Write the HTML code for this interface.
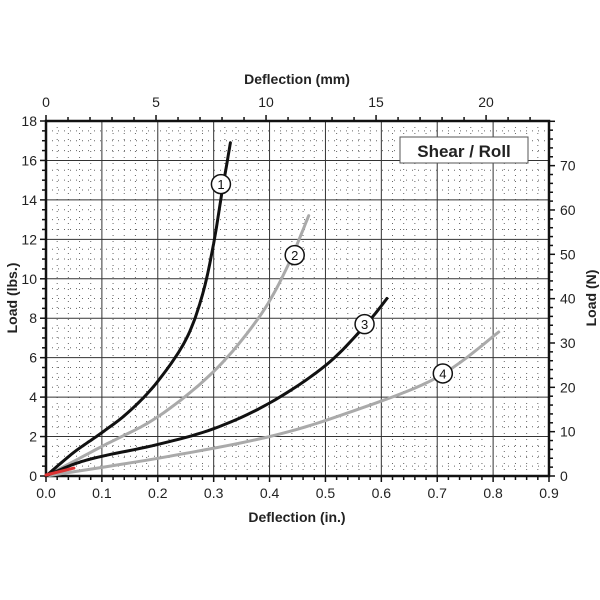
<!DOCTYPE html>
<html><head><meta charset="utf-8"><style>
html,body{margin:0;padding:0;background:#fff;width:600px;height:600px;overflow:hidden}
svg{display:block;font-family:"Liberation Sans",Arial,sans-serif}
</style></head><body>
<svg id="s" width="600" height="600" viewBox="0 0 600 600" xmlns="http://www.w3.org/2000/svg">
<g id="grid"></g>
<rect x="400" y="137" width="128" height="26" fill="#fff" stroke="#555" stroke-width="1"/>
<text x="464" y="157" font-size="17" font-weight="bold" text-anchor="middle" fill="#222">Shear / Roll</text>
<g id="curves"></g>
<text x="297" y="522" font-size="14" font-weight="bold" text-anchor="middle" fill="#222">Deflection (in.)</text>
<text x="297" y="84" font-size="14" font-weight="bold" text-anchor="middle" fill="#222">Deflection (mm)</text>
<text transform="translate(17,298) rotate(-90)" font-size="14" font-weight="bold" text-anchor="middle" fill="#222">Load (lbs.)</text>
<text transform="translate(596,298) rotate(-90)" font-size="14" font-weight="bold" text-anchor="middle" fill="#222">Load (N)</text>
</svg>
<script>
var L=46,R=549,T=121,B=476;
function X(d){return L+d*(R-L)/0.9}
function Y(v){return B-v*(B-T)/18}
var g=document.getElementById('grid'),h='';
function ln(x1,y1,x2,y2,st){h+='<line x1="'+x1+'" y1="'+y1+'" x2="'+x2+'" y2="'+y2+'" '+st+'/>';}
for(var i=1;i<45;i++){if(i%5)ln(X(i*0.02),T,X(i*0.02),B,'stroke="#666" stroke-width="1" stroke-dasharray="1,5"');}
for(var i=1;i<36;i++){if(i%4)ln(L,Y(i*0.5),R,Y(i*0.5),'stroke="#666" stroke-width="1" stroke-dasharray="1,5"');}
for(var i=1;i<9;i++)ln(X(i*0.1),T,X(i*0.1),B,'stroke="#333" stroke-width="1"');
for(var i=1;i<9;i++)ln(L,Y(i*2),R,Y(i*2),'stroke="#333" stroke-width="1"');
h+='<rect x="'+L+'" y="'+T+'" width="'+(R-L)+'" height="'+(B-T)+'" fill="none" stroke="#111" stroke-width="2.5"/>';
for(var i=0;i<=45;i++){var x=X(i*0.02);ln(x,B,x,B+(i%5?4:6),'stroke="#111" stroke-width="1.5"');}
for(var i=0;i<=9;i++)h+='<text x="'+X(i*0.1)+'" y="498" font-size="14" text-anchor="middle" fill="#222">'+(i/10).toFixed(1)+'</text>';
for(var i=0;i<=36;i++){var y=Y(i*0.5);ln(L-(i%4?4:6),y,L,y,'stroke="#111" stroke-width="1.5"');}
for(var i=0;i<=9;i++)h+='<text x="37" y="'+(Y(i*2)+5)+'" font-size="14" text-anchor="end" fill="#222">'+(i*2)+'</text>';
for(var mm=0;mm<=22;mm++){var x=X(mm/25.4);ln(x,T-(mm%5?4:6),x,T,'stroke="#111" stroke-width="1.5"');}
for(var mm=0;mm<=20;mm+=5)h+='<text x="'+X(mm/25.4)+'" y="107" font-size="14" text-anchor="middle" fill="#222">'+mm+'</text>';
for(var n=0;n<=80;n+=2){var y=Y(n/4.44822);if(y<T)break;ln(R,y,R+(n%10?4:6),y,'stroke="#111" stroke-width="1.5"');}
for(var n=0;n<=70;n+=10)h+='<text x="560" y="'+(Y(n/4.44822)+5)+'" font-size="14" fill="#222">'+n+'</text>';
g.innerHTML=h;
var c='';
function path(pts,col,w){var s='M';pts.forEach(function(p,i){s+=(i?' L':'')+X(p[0]).toFixed(1)+','+Y(p[1]).toFixed(1)});c+='<path d="'+s+'" fill="none" stroke="'+col+'" stroke-width="'+w+'" stroke-linejoin="round" stroke-linecap="round"/>';}
function smooth(p){var out=[];for(var i=0;i<p.length-1;i++){var p0=p[Math.max(i-1,0)],p1=p[i],p2=p[i+1],p3=p[Math.min(i+2,p.length-1)];for(var t=0;t<1;t+=0.1){var t2=t*t,t3=t2*t;var f=function(a,b,c2,d){return 0.5*(2*b+(-a+c2)*t+(2*a-5*b+4*c2-d)*t2+(-a+3*b-3*c2+d)*t3)};out.push([f(p0[0],p1[0],p2[0],p3[0]),f(p0[1],p1[1],p2[1],p3[1])]);}}out.push(p[p.length-1]);return out;}
var gray='#aaa',blk='#111';
path(smooth([[0,0],[0.2,0.9],[0.4,2.0],[0.55,3.3],[0.7,5],[0.81,7.3]]),gray,3);
path(smooth([[0,0],[0.1,1.5],[0.2,3],[0.3,5.3],[0.38,8],[0.43,10.5],[0.47,13.2]]),gray,3);
path(smooth([[0,0],[0.05,0.6],[0.1,1],[0.2,1.6],[0.3,2.4],[0.4,3.7],[0.5,5.6],[0.57,7.6],[0.61,9]]),blk,3);
path(smooth([[0,0],[0.05,1.2],[0.1,2.2],[0.15,3.3],[0.2,4.8],[0.25,6.9],[0.28,9.2],[0.3,11.8],[0.315,14.4],[0.33,16.9]]),blk,3);
path([[0,0.05],[0.05,0.4]],'#d33',3);
[[0.313,14.8,'1'],[0.445,11.2,'2'],[0.57,7.7,'3'],[0.71,5.2,'4']].forEach(function(l){var x=X(l[0]),y=Y(l[1]);c+='<circle cx="'+x+'" cy="'+y+'" r="9.5" fill="#fff" stroke="#111" stroke-width="1.5"/><text x="'+x+'" y="'+(y+5)+'" font-size="13" text-anchor="middle" fill="#111">'+l[2]+'</text>';});
document.getElementById('curves').innerHTML=c;
</script>
</body></html>
